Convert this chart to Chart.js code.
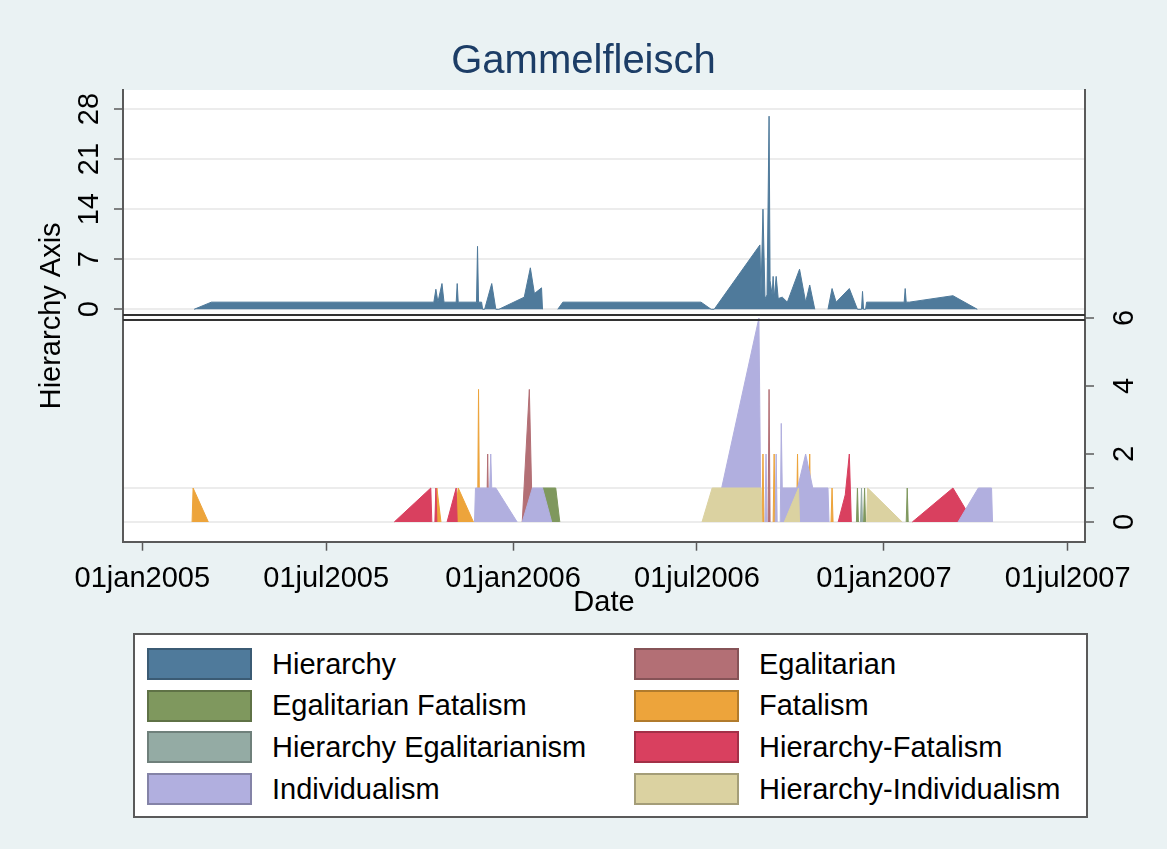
<!DOCTYPE html>
<html>
<head>
<meta charset="utf-8">
<title>Gammelfleisch</title>
<script src="https://cdn.jsdelivr.net/npm/chart.js@4.4.0/dist/chart.umd.min.js"></script>
<style>
  html, body { margin: 0; padding: 0; background: #eaf2f3; }
  #wrap { position: relative; width: 1167px; height: 849px; }
  #legend {
    position: absolute; left: 133px; top: 633px; width: 951px; height: 181px;
    background: #fff; border: 2px solid #5a5a5a;
    font-family: 'Liberation Sans', Arial, sans-serif; font-size: 29px; color: #000;
  }
  .item { position: absolute; display: flex; align-items: center; height: 34px; white-space: nowrap; }
  .swatch { width: 105px; height: 32px; border: 2px solid; box-sizing: border-box; margin-right: 20px; }
</style>
</head>
<body>
<div id="wrap">
  <canvas id="gammelChart" width="1167" height="849"></canvas>
  <div id="legend"></div>
</div>
<script>
// x axis
const xStart = '2004-12-13';
const xEnd = '2007-07-18';
const tickDates = ['2005-01-01', '2005-07-01', '2006-01-01', '2006-07-01', '2007-01-01', '2007-07-01'];
const tickLabels = ['01jan2005', '01jul2005', '01jan2006', '01jul2006', '01jan2007', '01jul2007'];

// y axes
const hierarchyTicks = [0, 7, 14, 21, 28];
const otherTicks = [0, 1, 2, 4, 6];

const seriesNames = ['Hierarchy', 'Egalitarian', 'Egalitarian Fatalism', 'Fatalism',
  'Hierarchy Egalitarianism', 'Hierarchy-Fatalism', 'Individualism', 'Hierarchy-Individualism'];
const seriesColors = ['#4f7a9b', '#b36f75', '#7f985e', '#eda43b',
  '#94aba4', '#d9405f', '#b1afdf', '#dbd2a1'];

// [date, count]; a null count breaks the area
const hierarchy = [
  ['2005-02-21', 0], ['2005-03-10', 1], ['2005-10-15', 1], ['2005-10-17', 2.8], ['2005-10-19', 1],
  ['2005-10-23', 3.6], ['2005-10-25', 1], ['2005-11-06', 1], ['2005-11-07', 3.6], ['2005-11-08', 1],
  ['2005-11-26', 1], ['2005-11-27', 8.8], ['2005-11-28', 1], ['2005-12-01', 1], ['2005-12-02', 0],
  ['2005-12-04', 0], ['2005-12-11', 3.6], ['2005-12-15', 0], ['2005-12-18', 0], ['2006-01-12', 1.7],
  ['2006-01-18', 5.8], ['2006-01-22', 2.2], ['2006-01-29', 3], ['2006-01-30', 0], ['2006-02-05', null],
  ['2006-02-14', 0], ['2006-02-19', 1], ['2006-07-05', 1], ['2006-07-15', 0], ['2006-07-18', 0],
  ['2006-09-01', 9], ['2006-09-02', 2], ['2006-09-04', 14], ['2006-09-06', 1.5], ['2006-09-08', 2],
  ['2006-09-10', 27], ['2006-09-11', 4], ['2006-09-13', 2], ['2006-09-14', 4.6], ['2006-09-15', 1.5],
  ['2006-09-17', 4.6], ['2006-09-19', 1.5], ['2006-09-23', 1.7], ['2006-09-28', 1], ['2006-10-10', 5.6],
  ['2006-10-16', 1], ['2006-10-20', 3.4], ['2006-10-25', 0], ['2006-11-01', null], ['2006-11-07', 0],
  ['2006-11-11', 2.9], ['2006-11-15', 1], ['2006-11-28', 2.9], ['2006-12-06', 0], ['2006-12-10', 0],
  ['2006-12-11', 2.5], ['2006-12-12', 0], ['2006-12-14', 0], ['2006-12-15', 1], ['2007-01-21', 1],
  ['2007-01-22', 2.9], ['2007-01-23', 1], ['2007-01-26', 1], ['2007-03-10', 1.9], ['2007-04-03', 0]
];
const egalitarian = [
  ['2005-12-06', 0], ['2005-12-07', 2], ['2005-12-08', 0], ['2005-12-20', null],
  ['2006-01-10', 0], ['2006-01-17', 3.9], ['2006-01-20', 0], ['2006-03-01', null],
  ['2006-09-09', 0], ['2006-09-10', 3.9], ['2006-09-11', 0]
];
const egalitarianFatalism = [
  ['2006-01-29', 0], ['2006-01-30', 1], ['2006-02-12', 1], ['2006-02-16', 0], ['2006-06-01', null],
  ['2006-12-05', 0], ['2006-12-06', 1], ['2006-12-07', 0], ['2006-12-10', null],
  ['2006-12-12', 0], ['2006-12-13', 1], ['2006-12-14', 0], ['2007-01-01', null],
  ['2007-01-23', 0], ['2007-01-24', 1], ['2007-01-25', 0]
];
const fatalism = [
  ['2005-02-19', 0], ['2005-02-20', 1], ['2005-03-07', 0], ['2005-06-01', null],
  ['2005-10-17', 0], ['2005-10-18', 1], ['2005-10-22', 0], ['2005-10-30', null],
  ['2005-11-04', 0], ['2005-11-08', 1], ['2005-11-23', 0], ['2005-11-25', null],
  ['2005-11-27', 0], ['2005-11-28', 3.9], ['2005-11-29', 0], ['2006-06-01', null],
  ['2006-09-03', 0], ['2006-09-04', 2], ['2006-09-05', 0], ['2006-09-10', null],
  ['2006-09-14', 0], ['2006-09-15', 2], ['2006-09-16', 0], ['2006-09-30', null],
  ['2006-10-07', 0], ['2006-10-08', 2], ['2006-10-09', 0], ['2006-10-15', null],
  ['2006-10-19', 0], ['2006-10-20', 2], ['2006-10-21', 0], ['2006-11-01', null],
  ['2006-11-10', 0], ['2006-11-11', 1], ['2006-11-12', 0]
];
const hierarchyEgalitarianism = [
  ['2006-12-09', 0], ['2006-12-10', 1], ['2006-12-11', 0]
];
const hierarchyFatalism = [
  ['2005-09-06', 0], ['2005-10-12', 1], ['2005-10-13', 0], ['2005-10-14', null],
  ['2005-10-16', 0], ['2005-10-17', 1], ['2005-10-18', 0], ['2005-10-20', null],
  ['2005-10-28', 0], ['2005-11-06', 1], ['2005-11-07', 0], ['2006-06-01', null],
  ['2006-11-17', 0], ['2006-11-24', 0.8], ['2006-11-28', 2], ['2006-11-30', 0], ['2006-12-31', null],
  ['2007-01-29', 0], ['2007-03-10', 1], ['2007-03-30', 0]
];
const individualism = [
  ['2005-11-24', 0], ['2005-11-25', 1], ['2005-12-09', 1], ['2005-12-10', 2], ['2005-12-11', 1],
  ['2005-12-15', 1], ['2006-01-05', 0], ['2006-01-07', null],
  ['2006-01-10', 0], ['2006-01-20', 1], ['2006-01-30', 1], ['2006-02-08', 0], ['2006-06-01', null],
  ['2006-07-18', 0], ['2006-08-31', 6], ['2006-09-02', 0], ['2006-09-04', null],
  ['2006-09-06', 0], ['2006-09-07', 2], ['2006-09-08', 0], ['2006-09-12', null],
  ['2006-09-16', 0], ['2006-09-17', 2], ['2006-09-18', 0], ['2006-09-19', null],
  ['2006-09-21', 0], ['2006-09-22', 2.9], ['2006-09-23', 1], ['2006-10-08', 1], ['2006-10-16', 2],
  ['2006-10-23', 1], ['2006-11-07', 1], ['2006-11-08', 0], ['2007-01-01', null],
  ['2007-03-15', 0], ['2007-04-04', 1], ['2007-04-17', 1], ['2007-04-18', 0]
];
const hierarchyIndividualism = [
  ['2006-07-06', 0], ['2006-07-16', 1], ['2006-09-02', 1], ['2006-09-03', 0], ['2006-09-10', null],
  ['2006-09-25', 0], ['2006-10-09', 1], ['2006-10-10', 0], ['2006-11-01', null],
  ['2006-12-15', 0], ['2006-12-16', 1], ['2007-01-19', 0]
];

const seriesData = [hierarchy, egalitarian, egalitarianFatalism, fatalism,
  hierarchyEgalitarianism, hierarchyFatalism, individualism, hierarchyIndividualism];

const epoch = Date.parse('2005-01-01T00:00:00Z');
const day = s => (Date.parse(s + 'T00:00:00Z') - epoch) / 86400000;

const axisGray = '#5a5a5a';
const gridGray = '#ececec';
Chart.defaults.font.family = "'Liberation Sans', Arial, sans-serif";
Chart.defaults.color = '#000';

// white plot region plus the double rule between the two panels
const panelFrame = {
  id: 'panelFrame',
  beforeDraw(chart) {
    const { ctx, chartArea: a } = chart;
    ctx.save();
    ctx.fillStyle = '#fff';
    ctx.fillRect(a.left, a.top, a.right - a.left, a.bottom - a.top);
    ctx.restore();
  },
  afterDatasetsDraw(chart) {
    const { ctx, chartArea: a, scales } = chart;
    ctx.save();
    ctx.strokeStyle = '#333';
    ctx.lineWidth = 2;
    [-0.8, -1.45].forEach(v => {
      const py = Math.round(scales.y.getPixelForValue(v));
      ctx.beginPath();
      ctx.moveTo(a.left, py);
      ctx.lineTo(a.right, py);
      ctx.stroke();
    });
    ctx.restore();
  }
};

const datasets = seriesData.map((rows, i) => ({
  label: seriesNames[i],
  data: rows.map(r => ({ x: day(r[0]), y: r[1] })),
  yAxisID: i === 0 ? 'y' : 'y2',
  backgroundColor: seriesColors[i],
  borderColor: seriesColors[i],
  borderWidth: 1,
  fill: 'origin',
  tension: 0,
  pointRadius: 0,
  pointHitRadius: 0,
  spanGaps: false,
  order: seriesData.length - i
}));

const chart = new Chart(document.getElementById('gammelChart'), {
  type: 'line',
  data: { datasets },
  options: {
    responsive: false,
    animation: false,
    devicePixelRatio: 1,
    layout: { padding: { left: 0, right: 0, top: 0, bottom: 228.6 } },
    plugins: {
      legend: { display: false },
      tooltip: { enabled: false },
      title: {
        display: true,
        text: 'Gammelfleisch',
        color: '#1c3d66',
        font: { size: 40, weight: 'normal' },
        padding: { top: 38, bottom: 4 }
      }
    },
    scales: {
      x: {
        type: 'linear',
        min: day(xStart),
        max: day(xEnd),
        afterBuildTicks: s => { s.ticks = tickDates.map(d => ({ value: day(d) })); },
        ticks: {
          callback: (v, i) => tickLabels[i],
          font: { size: 29 },
          padding: 11,
          maxRotation: 0,
          autoSkip: false
        },
        grid: { drawOnChartArea: false, tickLength: 9, tickColor: axisGray, tickWidth: 1.5 },
        border: { display: true, color: axisGray, width: 2 },
        title: { display: true, text: 'Date', font: { size: 29 }, padding: 0 },
        afterFit: s => { s.height = 78.7; }
      },
      y: {
        position: 'left',
        min: -32.49,
        max: 30.66,
        afterBuildTicks: s => { s.ticks = hierarchyTicks.map(v => ({ value: v })); },
        ticks: { minRotation: 90, maxRotation: 90, crossAlign: 'center', padding: 8, font: { size: 29 } },
        grid: { color: gridGray, lineWidth: 2, tickLength: 9, tickColor: axisGray, tickWidth: 1.5 },
        border: { color: axisGray, width: 2 },
        title: { display: true, text: 'Hierarchy Axis', font: { size: 29 }, padding: { top: 35, bottom: 0 } },
        afterFit: s => { s.width = 123; }
      },
      y2: {
        position: 'right',
        min: -0.579,
        max: 12.706,
        afterBuildTicks: s => { s.ticks = otherTicks.map(v => ({ value: v })); },
        ticks: {
          minRotation: 90, maxRotation: 90, crossAlign: 'center', padding: 23, font: { size: 29 },
          callback: v => (v === 1 ? '' : v)
        },
        grid: {
          color: c => (c.tick && c.tick.value <= 1 ? gridGray : 'rgba(0,0,0,0)'),
          lineWidth: 2, tickLength: 9, tickColor: axisGray, tickWidth: 1.5
        },
        border: { color: axisGray, width: 2 },
        afterFit: s => { s.width = 82; }
      }
    }
  },
  plugins: [panelFrame]
});

// legend: two columns, filled row by row
const legendBox = document.getElementById('legend');
chart.data.datasets.forEach((ds, i) => {
  const item = document.createElement('div');
  item.className = 'item';
  item.style.left = (i % 2 === 0 ? 12 : 499) + 'px';
  item.style.top = (12 + Math.floor(i / 2) * 41.7) + 'px';
  const sw = document.createElement('span');
  sw.className = 'swatch';
  sw.style.background = ds.backgroundColor;
  sw.style.borderColor = 'rgba(0,0,0,0.25)';
  const txt = document.createElement('span');
  txt.textContent = ds.label;
  item.appendChild(sw);
  item.appendChild(txt);
  legendBox.appendChild(item);
});
</script>
</body>
</html>
